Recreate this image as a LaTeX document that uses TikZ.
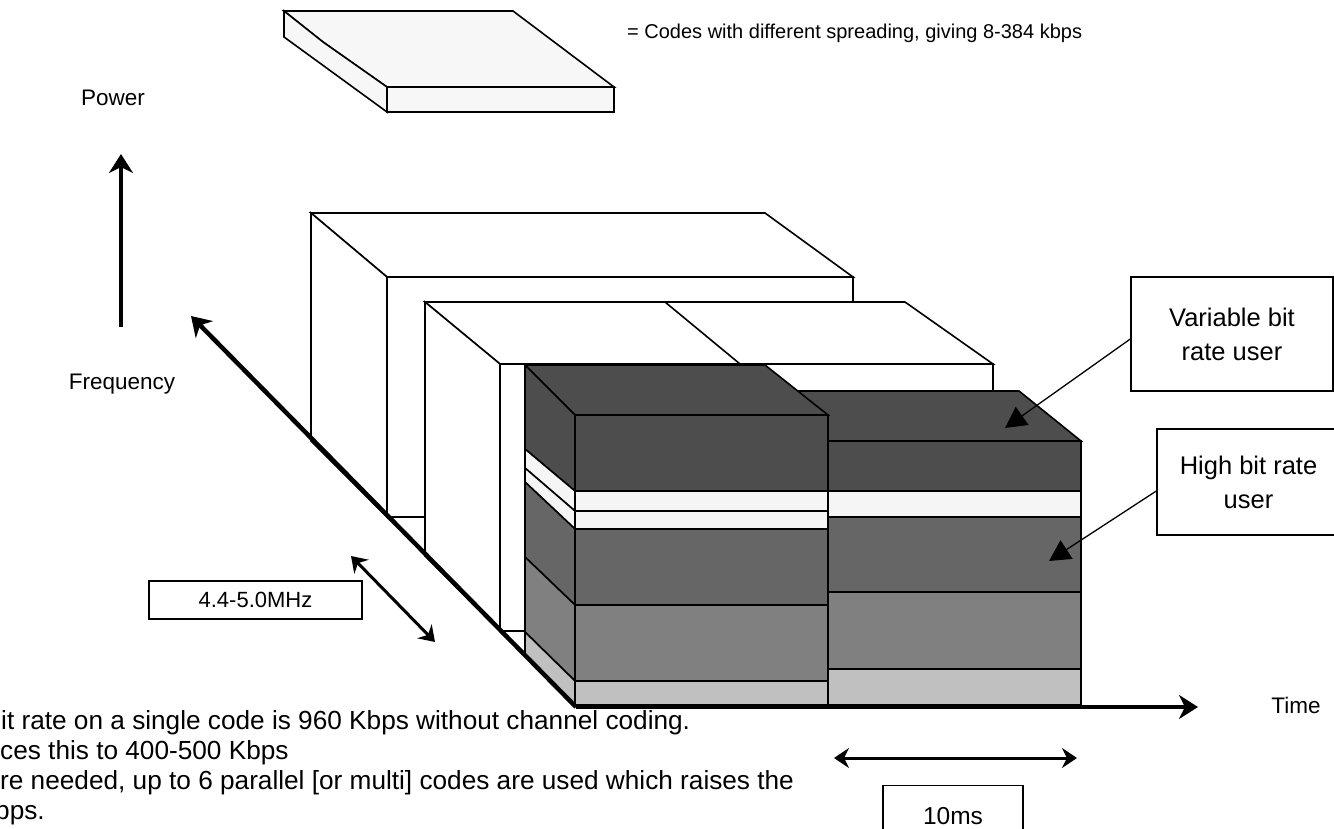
\documentclass[tikz,border=0pt]{standalone}
\usepackage{fontspec}
\setmainfont{Liberation Sans}
\usetikzlibrary{arrows.meta}
\definecolor{dk}{HTML}{4D4D4D}
\definecolor{wt}{HTML}{F5F5F5}
\definecolor{md}{HTML}{666666}
\definecolor{gr}{HTML}{808080}
\definecolor{lt}{HTML}{C0C0C0}
\definecolor{slab}{HTML}{F7F7F7}
\begin{document}
\begin{tikzpicture}[x=1pt,y=-1pt,
  ln/.style={draw=black,line width=1.6pt,line join=miter},
  wface/.style={ln,fill=white},
  txt/.style={font=\fontsize{22.5}{27}\selectfont,inner sep=0pt},
  btxt/.style={font=\fontsize{26.2}{30}\selectfont,inner sep=0pt,anchor=base west},
  lbox/.style={draw=black,line width=1.4pt,fill=white,inner sep=0pt,font=\fontsize{22}{27}\selectfont},
  callout/.style={draw=black,line width=1.4pt,fill=white,align=center,inner sep=0pt,font=\fontsize{25.5}{34}\selectfont},
  axis/.style={line width=4.5pt,-{Stealth[length=19pt,width=24pt,inset=6pt]}},
  dim/.style={line width=3pt,{Stealth[length=15pt,width=20pt,inset=5pt]}-{Stealth[length=15pt,width=20pt,inset=5pt]}},
  pointer/.style={line width=1.3pt,-{Triangle[length=21pt,width=22pt]}}]
\useasboundingbox (0,0) rectangle (1334,829);
\clip (0,0) rectangle (1334,829);

% legend slab
\filldraw[ln,fill=slab] (284,11)--(513,11)--(614,87)--(387,87)--(323,42)--cycle;
\filldraw[ln,fill=slab] (284,11)--(323,42)--(387,87)--(387,112)--(284,37)--cycle;
\filldraw[ln,fill=slab] (387,87) rectangle (614,112);
\node[txt,anchor=west,font=\fontsize{20}{24}\selectfont] (legend) at (627,33) {= Codes with different spreading, giving 8-384 kbps};

% back box
\path[wface] (311,213)--(765,213)--(853,277)--(387,277)--cycle;
\path[wface] (311,213)--(387,277)--(387,517)--(311,441)--cycle;
\path[wface] (387,277) rectangle (853,517);

% second box
\path[wface] (425,302)--(905,302)--(993,364)--(500,364)--cycle;
\path[wface] (425,302)--(500,364)--(500,631)--(425,556)--cycle;
\path[wface] (500,364) rectangle (993,631);
\draw[ln] (665,302)--(740,364);

% stack 2
\path[ln,fill=dk] (765,391)--(1019,391)--(1081,441)--(828,441)--cycle;
\path[ln,fill=dk] (828,441) rectangle (1081,491);
\path[ln,fill=wt] (828,491) rectangle (1081,517);
\path[ln,fill=md] (828,517) rectangle (1081,592);
\path[ln,fill=gr] (828,592) rectangle (1081,669);
\path[ln,fill=lt] (828,669) rectangle (1081,705);

% stack 1
\path[ln,fill=dk] (525,365)--(765,365)--(828,415)--(575,415)--cycle;
\path[ln,fill=dk] (525,365)--(575,415)--(575,491)--(525,449)--cycle;
\path[ln,fill=wt] (525,449)--(575,491)--(575,511)--(525,468)--cycle;
\path[ln,fill=wt] (525,468)--(575,511)--(575,529)--(525,482)--cycle;
\path[ln,fill=md] (525,482)--(575,529)--(575,605)--(525,557)--cycle;
\path[ln,fill=gr] (525,557)--(575,605)--(575,681)--(525,632)--cycle;
\path[ln,fill=lt] (525,632)--(575,681)--(575,705)--(525,655)--cycle;
\path[ln,fill=dk] (575,415) rectangle (828,491);
\path[ln,fill=wt] (575,491) rectangle (828,511);
\path[ln,fill=wt] (575,511) rectangle (828,529);
\path[ln,fill=md] (575,529) rectangle (828,605);
\path[ln,fill=gr] (575,605) rectangle (828,681);
\path[ln,fill=lt] (575,681) rectangle (828,705);

% axes
\coordinate (origin) at (576,707);
\coordinate (ftip) at (191,316);
\coordinate (ttip) at (1198,707);
\coordinate (pbot) at (121,327);
\coordinate (ptip) at (121,154);
\draw[axis] (origin) -- (ftip);
\draw[axis] (origin) -- (ttip);
\draw[axis,line width=4pt] (pbot) -- (ptip);

\node[txt] (power) at (113,98) {Power};
\node[txt] (freq) at (122,384) {Frequency};
\node[txt] (time) at (1296,705) {Time};

% bandwidth dimension
\coordinate (bwa) at (351,556);
\coordinate (bwb) at (435,642);
\draw[dim] (bwa) -- (bwb);
\node[lbox,minimum width=213pt,minimum height=38pt] (mhz) at (255.5,600) {4.4-5.0MHz};

% frame dimension
\coordinate (fa) at (834,758);
\coordinate (fb) at (1077,758);
\draw[dim] (fa) -- (fb);
\node[lbox,minimum width=140pt,minimum height=60pt,anchor=north,font=\fontsize{24.5}{28}\selectfont] (ms) at (953,785) {10ms};

% callouts
\node[callout,minimum width=202pt,minimum height=114pt] (vbr) at (1232,334) {Variable bit\\rate user};
\node[callout,minimum width=183pt,minimum height=106pt] (hbr) at (1248.5,482) {High bit rate\\user};
\coordinate (vtip) at (1005,428);
\coordinate (htip) at (1049,561);
\draw[pointer] ([yshift=-5pt]vbr.west) -- (vtip);
\draw[pointer] ([yshift=-9pt]hbr.west) -- (htip);

% bottom text (cut at the left edge)
\node[btxt] (t1) at (1,729) {it rate on a single code is 960 Kbps without channel coding.};
\node[btxt] (t2) at (0,759) {ces this to 400-500 Kbps};
\node[btxt] (t3) at (0,789) {re needed, up to 6 parallel [or multi] codes are used which raises the};
\node[btxt] (t4) at (-5,819) {bps.};
\end{tikzpicture}
\end{document}
